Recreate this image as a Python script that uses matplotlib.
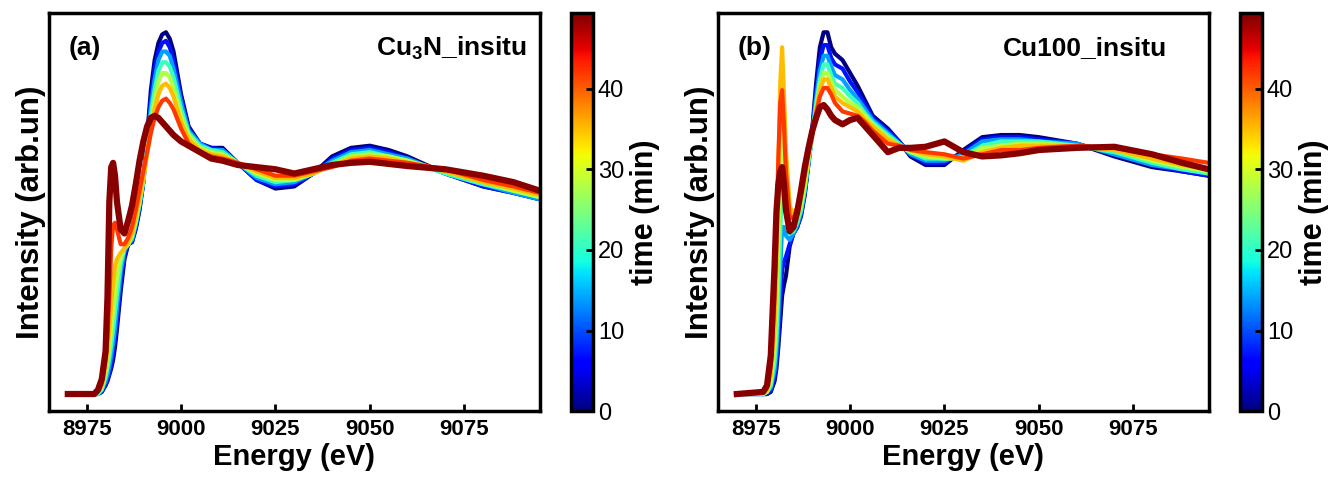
import numpy as np
import matplotlib
matplotlib.use('Agg')
import matplotlib.pyplot as plt
from matplotlib import cm, colors

plt.rcParams['font.family'] = ['Liberation Sans', 'DejaVu Sans']
plt.rcParams['mathtext.fontset'] = 'custom'
plt.rcParams['mathtext.rm'] = 'Liberation Sans'
plt.rcParams['mathtext.bf'] = 'Liberation Sans:bold'

# ---- data ----
times = [0, 7, 14, 21, 28, 35, 42, 49]     # min
time_max = 49.4
ticks_x = [8975, 9000, 9025, 9050, 9075]

# (a) Cu3N_insitu
energy_a = [8970, 8977, 8978, 8979, 8980, 8980.5, 8981, 8981.5, 8982, 8982.5, 8983, 8984, 8985,
            8986, 8987, 8988, 8989, 8990, 8991, 8992, 8993, 8994, 8995, 8996, 8997, 8998, 9000,
            9002, 9005, 9008, 9011, 9015, 9020, 9025, 9030, 9035, 9040, 9045, 9050, 9055, 9060,
            9070, 9080, 9088, 9095]
cu3n_00 = [0, 0, 0, 0.01, 0.04, 0.06, 0.09, 0.12, 0.16, 0.22, 0.30, 0.48, 0.63, 0.70, 0.71, 0.77,
           0.86, 0.99, 1.20, 1.42, 1.56, 1.64, 1.68, 1.69, 1.66, 1.60, 1.40, 1.25, 1.17, 1.15, 1.15,
           1.08, 1.00, 0.96, 0.97, 1.03, 1.11, 1.15, 1.16, 1.14, 1.11, 1.03, 0.97, 0.94, 0.91]
cu3n_07 = [0, 0, 0, 0.01, 0.05, 0.07, 0.10, 0.14, 0.19, 0.26, 0.34, 0.52, 0.65, 0.70, 0.71, 0.78,
           0.87, 0.99, 1.18, 1.38, 1.52, 1.60, 1.64, 1.65, 1.62, 1.56, 1.38, 1.24, 1.17, 1.15, 1.14,
           1.08, 1.00, 0.97, 0.98, 1.03, 1.10, 1.14, 1.15, 1.13, 1.10, 1.03, 0.97, 0.94, 0.91]
cu3n_14 = [0, 0, 0, 0.02, 0.06, 0.09, 0.13, 0.18, 0.24, 0.31, 0.40, 0.57, 0.67, 0.70, 0.72, 0.79,
           0.88, 0.99, 1.16, 1.34, 1.47, 1.56, 1.60, 1.60, 1.58, 1.52, 1.36, 1.23, 1.17, 1.14, 1.14,
           1.08, 1.01, 0.98, 0.99, 1.03, 1.09, 1.13, 1.14, 1.12, 1.10, 1.03, 0.98, 0.94, 0.91]
cu3n_21 = [0, 0, 0, 0.02, 0.08, 0.12, 0.17, 0.23, 0.30, 0.38, 0.46, 0.61, 0.68, 0.70, 0.73, 0.80,
           0.89, 1.00, 1.14, 1.30, 1.42, 1.51, 1.55, 1.55, 1.53, 1.48, 1.33, 1.22, 1.16, 1.14, 1.13,
           1.08, 1.02, 0.99, 1.00, 1.03, 1.08, 1.12, 1.13, 1.11, 1.09, 1.03, 0.98, 0.95, 0.92]
cu3n_28 = [0, 0, 0.01, 0.03, 0.10, 0.15, 0.22, 0.30, 0.38, 0.46, 0.54, 0.64, 0.68, 0.70, 0.74, 0.81,
           0.90, 1.00, 1.13, 1.26, 1.37, 1.46, 1.50, 1.50, 1.48, 1.43, 1.30, 1.21, 1.15, 1.13, 1.12,
           1.08, 1.03, 1.00, 1.00, 1.03, 1.07, 1.11, 1.12, 1.11, 1.09, 1.04, 0.99, 0.95, 0.92]
cu3n_35 = [0, 0, 0.01, 0.04, 0.13, 0.20, 0.30, 0.42, 0.52, 0.60, 0.63, 0.66, 0.68, 0.71, 0.75, 0.83,
           0.92, 1.01, 1.12, 1.23, 1.33, 1.40, 1.44, 1.45, 1.43, 1.39, 1.27, 1.19, 1.14, 1.12, 1.11,
           1.08, 1.04, 1.01, 1.01, 1.03, 1.07, 1.10, 1.11, 1.10, 1.08, 1.04, 0.99, 0.96, 0.93]
cu3n_42 = [0, 0, 0.01, 0.05, 0.16, 0.27, 0.45, 0.68, 0.79, 0.80, 0.77, 0.70, 0.70, 0.73, 0.78, 0.86,
           0.95, 1.04, 1.13, 1.22, 1.29, 1.34, 1.37, 1.38, 1.36, 1.33, 1.24, 1.17, 1.13, 1.11, 1.10,
           1.08, 1.05, 1.02, 1.02, 1.04, 1.06, 1.09, 1.10, 1.09, 1.08, 1.05, 1.00, 0.97, 0.94]
cu3n_49 = [0, 0, 0.02, 0.07, 0.20, 0.45, 0.90, 1.06, 1.08, 1.02, 0.90, 0.77, 0.75, 0.81, 0.88, 0.98,
           1.09, 1.18, 1.25, 1.29, 1.30, 1.29, 1.27, 1.25, 1.23, 1.21, 1.18, 1.16, 1.13, 1.10, 1.09,
           1.07, 1.06, 1.05, 1.03, 1.05, 1.07, 1.08, 1.085, 1.075, 1.065, 1.05, 1.02, 0.99, 0.95]

# (b) Cu100_insitu
energy_b = [8970, 8977, 8978, 8979, 8980, 8980.5, 8981, 8981.5, 8982, 8982.5, 8983, 8984, 8985,
            8986, 8987, 8988, 8989, 8990, 8991, 8992, 8993, 8994, 8995, 8996, 8998, 9000, 9002,
            9004, 9006, 9008, 9010, 9013, 9016, 9020, 9025, 9030, 9035, 9040, 9045, 9050, 9060,
            9070, 9080, 9088, 9095]
cu100_00 = [0, 0, 0, 0.01, 0.06, 0.12, 0.22, 0.34, 0.46, 0.51, 0.55, 0.69, 0.75, 0.78, 0.83, 0.93,
            1.08, 1.24, 1.45, 1.62, 1.69, 1.69, 1.62, 1.59, 1.56, 1.50, 1.44, 1.37, 1.30, 1.27, 1.24,
            1.18, 1.11, 1.07, 1.07, 1.14, 1.20, 1.21, 1.21, 1.20, 1.17, 1.11, 1.06, 1.04, 1.02]
cu100_07 = [0, 0, 0, 0.02, 0.08, 0.15, 0.27, 0.44, 0.58, 0.62, 0.64, 0.70, 0.75, 0.78, 0.84, 0.94,
            1.08, 1.23, 1.41, 1.56, 1.63, 1.63, 1.57, 1.54, 1.52, 1.46, 1.41, 1.35, 1.29, 1.26, 1.23,
            1.18, 1.12, 1.08, 1.08, 1.13, 1.19, 1.20, 1.20, 1.19, 1.17, 1.12, 1.07, 1.04, 1.02]
cu100_14 = [0, 0, 0.01, 0.03, 0.11, 0.20, 0.36, 0.58, 0.78, 0.78, 0.74, 0.72, 0.75, 0.79, 0.85, 0.95,
            1.08, 1.22, 1.38, 1.51, 1.58, 1.58, 1.53, 1.49, 1.47, 1.42, 1.38, 1.33, 1.28, 1.25, 1.22,
            1.17, 1.12, 1.09, 1.09, 1.12, 1.18, 1.19, 1.19, 1.18, 1.17, 1.12, 1.07, 1.05, 1.03]
cu100_21 = [0, 0, 0.01, 0.04, 0.15, 0.27, 0.48, 0.76, 0.98, 0.94, 0.86, 0.75, 0.76, 0.80, 0.86, 0.96,
            1.09, 1.21, 1.35, 1.47, 1.54, 1.54, 1.49, 1.45, 1.43, 1.39, 1.36, 1.31, 1.27, 1.24, 1.21,
            1.17, 1.13, 1.10, 1.10, 1.11, 1.16, 1.18, 1.18, 1.18, 1.16, 1.13, 1.08, 1.05, 1.03]
cu100_28 = [0, 0, 0.01, 0.06, 0.22, 0.40, 0.70, 1.05, 1.28, 1.16, 1.00, 0.80, 0.78, 0.82, 0.88, 0.98,
            1.10, 1.21, 1.33, 1.44, 1.50, 1.50, 1.46, 1.42, 1.39, 1.36, 1.34, 1.30, 1.26, 1.23, 1.20,
            1.16, 1.13, 1.11, 1.10, 1.10, 1.15, 1.16, 1.17, 1.17, 1.16, 1.14, 1.09, 1.06, 1.04]
cu100_35 = [0, 0.01, 0.02, 0.09, 0.32, 0.60, 1.05, 1.45, 1.62, 1.40, 1.14, 0.88, 0.84, 0.87, 0.92, 1.01,
            1.12, 1.22, 1.32, 1.42, 1.47, 1.47, 1.43, 1.39, 1.36, 1.34, 1.32, 1.28, 1.25, 1.22, 1.19,
            1.16, 1.14, 1.12, 1.11, 1.09, 1.13, 1.15, 1.16, 1.16, 1.16, 1.14, 1.10, 1.07, 1.05]
cu100_42 = [0, 0.01, 0.03, 0.13, 0.45, 0.75, 1.10, 1.36, 1.42, 1.25, 1.04, 0.83, 0.82, 0.87, 0.94, 1.03,
            1.13, 1.22, 1.31, 1.39, 1.43, 1.43, 1.40, 1.36, 1.32, 1.31, 1.30, 1.27, 1.23, 1.20, 1.17,
            1.16, 1.14, 1.13, 1.12, 1.10, 1.12, 1.14, 1.14, 1.15, 1.16, 1.15, 1.12, 1.10, 1.08]
cu100_49 = [0, 0.01, 0.04, 0.18, 0.60, 0.85, 0.98, 1.04, 1.06, 0.98, 0.86, 0.76, 0.78, 0.85, 0.95, 1.06,
            1.15, 1.23, 1.29, 1.34, 1.35, 1.33, 1.30, 1.28, 1.26, 1.28, 1.29, 1.25, 1.21, 1.17, 1.13,
            1.15, 1.15, 1.155, 1.18, 1.13, 1.11, 1.115, 1.125, 1.14, 1.15, 1.155, 1.12, 1.08, 1.05]

spectra_a = [cu3n_00, cu3n_07, cu3n_14, cu3n_21, cu3n_28, cu3n_35, cu3n_42, cu3n_49]
spectra_b = [cu100_00, cu100_07, cu100_14, cu100_21, cu100_28, cu100_35, cu100_42, cu100_49]


def draw_panel(fig, ax, cax, energy, spectra, tag, name, name_x):
    norm = colors.Normalize(vmin=0, vmax=time_max)
    cmap = plt.get_cmap('jet')
    for t, y in zip(times, spectra):
        lw = 4.5 if t == times[-1] else 3.0
        ax.plot(energy, y, color=cmap(norm(t)), lw=lw, solid_joinstyle='round')
    ax.set_xlim(8965, 9095)
    ax.set_ylim(-0.08, 1.78)
    ax.set_xticks(ticks_x)
    ax.set_yticks([])
    ax.tick_params(axis='x', direction='in', length=5, width=2, labelsize=16, pad=6)
    for lab in ax.get_xticklabels():
        lab.set_fontweight('bold')
    for sp in ax.spines.values():
        sp.set_linewidth(2.5)
    ax.set_xlabel('Energy (eV)', fontsize=21, fontweight='bold', labelpad=2)
    ax.set_ylabel('Intensity (arb.un)', fontsize=22.5, fontweight='bold', labelpad=2)
    ax.text(0.04, 0.912, tag, transform=ax.transAxes, fontsize=19,
            fontweight='bold', va='center', ha='left')
    ax.text(name_x, 0.912, name, transform=ax.transAxes, fontsize=19,
            fontweight='bold', va='center', ha='right')

    sm = cm.ScalarMappable(norm=norm, cmap=cmap)
    cb = fig.colorbar(sm, cax=cax, ticks=[0, 10, 20, 30, 40])
    cb.outline.set_linewidth(2.5)
    cax.tick_params(direction='in', length=5, width=2, labelsize=17)
    cb.set_label('time (min)', fontsize=22, fontweight='bold', labelpad=4)


fig = plt.figure(figsize=(13.3, 4.82), dpi=100)
ax_a = fig.add_axes([0.0368, 0.147, 0.369, 0.826])
cax_a = fig.add_axes([0.4293, 0.147, 0.0165, 0.826])
ax_b = fig.add_axes([0.5398, 0.147, 0.369, 0.826])
cax_b = fig.add_axes([0.9323, 0.147, 0.0165, 0.826])

draw_panel(fig, ax_a, cax_a, energy_a, spectra_a, '(a)', r'Cu$_\mathbf{3}$N_insitu', 0.973)
draw_panel(fig, ax_b, cax_b, energy_b, spectra_b, '(b)', 'Cu100_insitu', 0.916)

fig.savefig('out.png', dpi=100)
